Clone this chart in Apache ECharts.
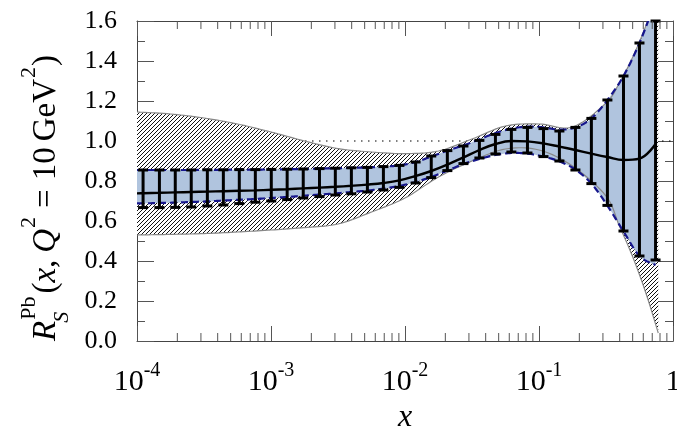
<!DOCTYPE html>
<html>
<head>
<meta charset="utf-8">
<script src="https://cdn.jsdelivr.net/npm/echarts@6.0.0/dist/echarts.min.js"></script>
<style>
  html, body { margin: 0; padding: 0; background: #fff; }
  #chart { width: 677px; height: 429px; }
</style>
</head>
<body>
<div id="chart"></div>
<script>
// ---- values ----
// blue band + central curve (first point sits on the left frame)
const xBand = [1.0e-4, 1.11e-4, 1.47e-4, 1.93e-4, 2.54e-4, 3.35e-4, 4.41e-4, 5.80e-4, 7.64e-4,
  1.005e-3, 1.32e-3, 1.74e-3, 2.30e-3, 3.02e-3, 3.98e-3, 5.24e-3, 6.90e-3, 9.08e-3,
  1.20e-2, 1.57e-2, 2.07e-2, 2.73e-2, 3.59e-2, 4.73e-2, 6.22e-2, 8.20e-2,
  0.108, 0.142, 0.187, 0.246, 0.324, 0.427, 0.562, 0.741];
const bandUpper = [0.855, 0.855, 0.855, 0.855, 0.855, 0.856, 0.856, 0.857, 0.857,
  0.858, 0.859, 0.860, 0.862, 0.864, 0.866, 0.868, 0.872, 0.878,
  0.895, 0.922, 0.952, 0.978, 1.008, 1.040, 1.062, 1.072,
  1.068, 1.057, 1.068, 1.113, 1.205, 1.325, 1.490, 1.700];
const bandLower = [0.688, 0.688, 0.690, 0.692, 0.695, 0.698, 0.702, 0.706, 0.710,
  0.715, 0.720, 0.726, 0.732, 0.738, 0.745, 0.752, 0.762, 0.775,
  0.795, 0.820, 0.852, 0.885, 0.910, 0.930, 0.940, 0.937,
  0.922, 0.898, 0.857, 0.787, 0.677, 0.548, 0.425, 0.380];
const central = [0.738, 0.739, 0.741, 0.743, 0.745, 0.747, 0.749, 0.751, 0.753,
  0.756, 0.759, 0.763, 0.767, 0.771, 0.776, 0.782, 0.790, 0.803,
  0.825, 0.850, 0.882, 0.918, 0.955, 0.985, 1.000, 0.998,
  0.988, 0.972, 0.955, 0.937, 0.920, 0.905, 0.912, 0.985];

// error bars (same x as the band, without the frame point)
const barX = xBand.slice(1);
const barTop = [0.855, 0.855, 0.855, 0.855, 0.856, 0.856, 0.857, 0.857,
  0.858, 0.859, 0.860, 0.862, 0.864, 0.866, 0.868, 0.872, 0.878,
  0.895, 0.925, 0.952, 0.975, 1.003, 1.033, 1.058, 1.068,
  1.062, 1.050, 1.068, 1.113, 1.205, 1.325, 1.490, 1.600];
const barBottom = [0.667, 0.667, 0.668, 0.670, 0.675, 0.680, 0.687, 0.694,
  0.700, 0.707, 0.715, 0.722, 0.730, 0.736, 0.745, 0.755, 0.768,
  0.790, 0.817, 0.852, 0.887, 0.915, 0.935, 0.945, 0.940,
  0.922, 0.900, 0.855, 0.787, 0.678, 0.550, 0.425, 0.405];

// hatched band
const xHatch = [1e-4, 1.778e-4, 3.162e-4, 5.623e-4, 1e-3, 1.778e-3, 3.162e-3, 5.623e-3,
  1e-2, 1.778e-2, 3.162e-2, 5.623e-2, 0.1, 0.1778, 0.3162, 0.398, 0.501, 0.631, 0.776];
const hatchUpper = [1.145, 1.135, 1.115, 1.085, 1.045, 1.000, 0.962, 0.945,
  0.937, 0.950, 1.010, 1.075, 1.085, 1.070, 1.190, 1.290, 1.420, 1.580, 1.750];
const hatchLower = [0.530, 0.533, 0.537, 0.545, 0.555, 0.567, 0.585, 0.645,
  0.715, 0.820, 0.900, 0.960, 0.955, 0.875, 0.725, 0.575, 0.420, 0.235, 0.040];

const unityX = [1e-4, 1];
const unityY = [1, 1];

// ---- helpers ----
const zip = (xs, ys) => xs.map((x, i) => [x, ys[i]]);
const FONT = '"Liberation Serif", "DejaVu Serif", serif';

const hatch = (() => {
  const c = document.createElement('canvas');
  c.width = 4; c.height = 4;
  const g = c.getContext('2d');
  g.fillStyle = '#fff';
  g.fillRect(0, 0, 4, 4);
  g.strokeStyle = '#111';
  g.lineWidth = 1;
  g.beginPath();
  g.moveTo(0, 4); g.lineTo(4, 0);
  g.moveTo(-1, 1); g.lineTo(1, -1);
  g.moveTo(3, 5); g.lineTo(5, 3);
  g.stroke();
  return c;
})();

// catmull-rom through pixel points, so fills and edges share one curve
function spline(pts) {
  const out = [];
  const n = pts.length;
  for (let i = 0; i < n - 1; i++) {
    const p0 = pts[Math.max(i - 1, 0)], p1 = pts[i], p2 = pts[i + 1], p3 = pts[Math.min(i + 2, n - 1)];
    for (let k = 0; k < 10; k++) {
      const t = k / 10, t2 = t * t, t3 = t2 * t;
      out.push([0, 1].map(d => 0.5 * (2 * p1[d] + (-p0[d] + p2[d]) * t +
        (2 * p0[d] - 5 * p1[d] + 4 * p2[d] - p3[d]) * t2 + (-p0[d] + 3 * p1[d] - 3 * p2[d] + p3[d]) * t3)));
    }
  }
  out.push(pts[n - 1]);
  return out;
}

// one custom series draws a whole band (fill or edges) from its data
function band(xs, lo, hi, z, kind, style) {
  return {
    type: 'custom', z: z, silent: true,
    data: xs.map((x, i) => [x, lo[i], hi[i]]),
    encode: { x: 0, y: [1, 2] },
    renderItem: (params, api) => {
      if (params.dataIndex !== 0) return null;
      const U = spline(xs.map((x, i) => api.coord([x, hi[i]])));
      const L = spline(xs.map((x, i) => api.coord([x, lo[i]])));
      const cs = params.coordSys;
      const kids = kind === 'fill'
        ? [{ type: 'polygon', shape: { points: U.concat(L.slice().reverse()) }, style: style }]
        : [{ type: 'polyline', shape: { points: U }, style: style },
           { type: 'polyline', shape: { points: L }, style: style }];
      return { type: 'group', children: kids,
        clipPath: { type: 'rect', shape: { x: cs.x, y: cs.y, width: cs.width, height: cs.height } } };
    }
  };
}

// y-axis title: pieces flowed with measured widths, then rotated
function yTitle() {
  const F = 33, S = 22;
  const big = F + 'px ' + FONT, it = 'italic ' + big;
  const sm = S + 'px ' + FONT, smIt = 'italic ' + sm;
  const ctx = document.createElement('canvas').getContext('2d');
  const wid = (t, f) => { ctx.font = f; return ctx.measureText(t).width; };
  const kids = [];
  let x = 0;
  const put = (t, f, size, at, dy) => {
    kids.push({ type: 'text', x: at, y: dy - size * 0.32,
      style: { text: t, font: f, fill: '#000', verticalAlign: 'middle', align: 'left' } });
    return wid(t, f);
  };
  x += put('R', it, F, x, 0);
  const a = put('Pb', sm, S, x + 1, -21);
  const b = put('S', smIt, S, x - 2, 12);
  x += Math.max(a + 1, b - 2) + 3;
  x += put('(', big, F, x, 0);
  x += put('x', it, F, x, 0);
  x += put(',', big, F, x, 0) + 7;
  x += put('Q', it, F, x, 0) + 1;
  x += put('2', sm, S, x, -21) + 9;
  x += put('=', big, F, x, 0) + 9;
  x += put('10', big, F, x, 0) + 6;
  x += put('GeV', big, F, x, 0) + 1;
  x += put('2', sm, S, x, -21) + 1;
  x += put(')', big, F, x, 0);
  return { type: 'group', x: 57, y: 341, rotation: Math.PI / 2, children: kids };
}

// minor log ticks, drawn on both the bottom and top frame
const minorTicks = [];
for (let e = -4; e < 0; e++) for (let m = 2; m <= 9; m++) minorTicks.push([m * Math.pow(10, e), 0]);

const chart = echarts.init(document.getElementById('chart'));

const xAxisBase = {
  type: 'log', logBase: 10, min: 1e-4, max: 1,
  axisLine: { show: true, onZero: false, lineStyle: { color: '#444', width: 1 } },
  axisTick: { inside: true, length: 15, lineStyle: { color: '#555', width: 1 } },
  splitLine: { show: false }, minorTick: { show: false }
};
const yAxisBase = {
  type: 'value', min: 0, max: 1.6, interval: 0.2,
  axisLine: { show: true, onZero: false, lineStyle: { color: '#444', width: 1 } },
  axisTick: { inside: true, length: 17, lineStyle: { color: '#555', width: 1 } },
  minorTick: { show: true, splitNumber: 2, length: 8, lineStyle: { color: '#555', width: 1 } },
  splitLine: { show: false }, minorSplitLine: { show: false }
};

chart.setOption({
  animation: false,
  backgroundColor: '#fff',
  grid: { left: 137, right: 4, top: 21, bottom: 88, containLabel: false, outerBoundsMode: 'none' },
  xAxis: [
    Object.assign({}, xAxisBase, {
      position: 'bottom',
      name: 'x', nameLocation: 'middle', nameGap: 52,
      nameTextStyle: { fontFamily: FONT, fontStyle: 'italic', fontSize: 32, color: '#000' },
      axisLabel: {
        margin: 20,
        formatter: v => {
          const e = Math.round(Math.log10(v));
          return e === 0 ? '{b|1}' : '{b|10}{s|' + e + '}';
        },
        rich: {
          b: { fontFamily: FONT, fontSize: 30, color: '#000', lineHeight: 36, verticalAlign: 'bottom' },
          s: { fontFamily: FONT, fontSize: 20, color: '#000', lineHeight: 36, verticalAlign: 'top' }
        }
      }
    }),
    Object.assign({}, xAxisBase, { position: 'top', axisLabel: { show: false } })
  ],
  yAxis: [
    Object.assign({}, yAxisBase, {
      position: 'left',
      axisLabel: { fontFamily: FONT, fontSize: 26, color: '#000', margin: 20,
        formatter: v => v.toFixed(1) }
    }),
    Object.assign({}, yAxisBase, { position: 'right', axisLabel: { show: false } })
  ],
  graphic: [yTitle()],
  series: [
    { type: 'line', data: zip(unityX, unityY), symbol: 'none', z: 1,
      lineStyle: { color: '#000', width: 1.2, type: [1.5, 5.5] } },
    band(xHatch, hatchLower, hatchUpper, 2, 'fill', { fill: { image: hatch, repeat: 'repeat' } }),
    band(xBand, bandLower, bandUpper, 3, 'fill', { fill: '#b0c4de' }),
    band(xHatch, hatchLower, hatchUpper, 4, 'edge', { fill: null, stroke: '#888', lineWidth: 1.2 }),
    band(xBand, bandLower, bandUpper, 5, 'edge',
      { fill: null, stroke: '#16168c', lineWidth: 2.2, lineDash: [7, 4] }),
    // error bars
    { type: 'custom', z: 6,
      data: barX.map((x, i) => [x, barBottom[i], barTop[i]]),
      encode: { x: 0, y: [1, 2] },
      renderItem: (params, api) => {
        const lo = api.coord([api.value(0), api.value(1)]);
        const hi = api.coord([api.value(0), api.value(2)]);
        const st = { stroke: '#000', lineWidth: 3 };
        return { type: 'group', children: [
          { type: 'line', shape: { x1: lo[0], y1: lo[1], x2: hi[0], y2: hi[1] }, style: st },
          { type: 'line', shape: { x1: lo[0] - 5, y1: lo[1], x2: lo[0] + 5, y2: lo[1] }, style: st },
          { type: 'line', shape: { x1: hi[0] - 5, y1: hi[1], x2: hi[0] + 5, y2: hi[1] }, style: st }
        ] };
      } },
    // central curve
    { type: 'line', data: zip(xBand, central), symbol: 'none', smooth: 0.4, z: 7,
      lineStyle: { color: '#000', width: 2.4 } },
    // minor ticks on the log axis
    { type: 'custom', z: 8, silent: true, data: minorTicks, encode: { x: 0, y: 1 },
      renderItem: (params, api) => {
        const p = api.coord([api.value(0), 0.8]);
        const top = params.coordSys.y, bot = params.coordSys.y + params.coordSys.height;
        const st = { stroke: '#555', lineWidth: 1 };
        return { type: 'group', children: [
          { type: 'line', shape: { x1: p[0], y1: bot, x2: p[0], y2: bot - 8 }, style: st },
          { type: 'line', shape: { x1: p[0], y1: top, x2: p[0], y2: top + 8 }, style: st }
        ] };
      } }
  ]
});
</script>
</body>
</html>
